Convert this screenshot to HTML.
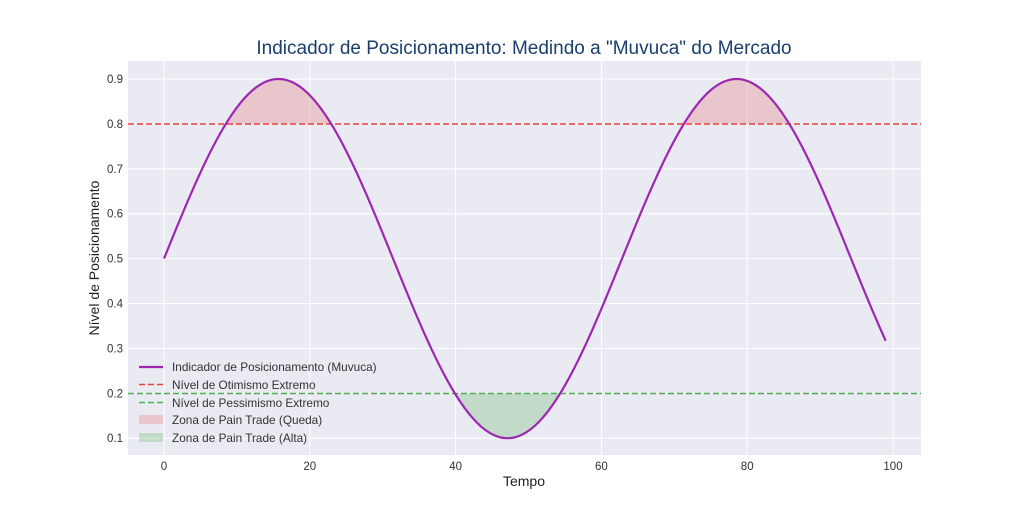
<!DOCTYPE html>
<html><head><meta charset="utf-8"><style>
body{margin:0;background:#fff;}
svg text{font-family:"Liberation Sans",sans-serif;}
</style></head><body>
<svg id="s" width="1024" height="512" xmlns="http://www.w3.org/2000/svg">
<rect x="0" y="0" width="1024" height="512" fill="#fff"/>
<rect x="128" y="61" width="793" height="394" fill="#eaeaf2"/>
<g id="grid" stroke="#fff" stroke-width="1"></g>
<g id="fills"></g>
<line x1="128" x2="921" y1="124" y2="124" stroke="#e8413c" stroke-width="1.5" stroke-dasharray="6,3"/>
<line x1="128" x2="921" y1="393.5" y2="393.5" stroke="#4caf50" stroke-width="1.5" stroke-dasharray="6,3"/>
<path id="curve" fill="none" stroke="#9c27b0" stroke-width="2.2"/>
<g id="labels" font-size="11.5" fill="#333"></g>
<text x="524" y="54" font-size="19" fill="#1a3e6e" text-anchor="middle">Indicador de Posicionamento: Medindo a "Muvuca" do Mercado</text>
<text x="524" y="486" font-size="14" fill="#222" text-anchor="middle">Tempo</text>
<text x="99" y="258" font-size="14" fill="#222" text-anchor="middle" transform="rotate(-90 99 258)">Nível de Posicionamento</text>
<g font-size="11.8" fill="#333">
<line x1="139" x2="163" y1="367" y2="367" stroke="#9c27b0" stroke-width="2.2"/>
<text x="172" y="371">Indicador de Posicionamento (Muvuca)</text>
<line x1="139" x2="163" y1="384.5" y2="384.5" stroke="#e8413c" stroke-width="1.5" stroke-dasharray="6,3"/>
<text x="172" y="389">Nível de Otimismo Extremo</text>
<line x1="139" x2="163" y1="402.5" y2="402.5" stroke="#4caf50" stroke-width="1.5" stroke-dasharray="6,3"/>
<text x="172" y="407">Nível de Pessimismo Extremo</text>
<rect x="139" y="415" width="24" height="9" fill="#e57373" fill-opacity="0.3"/>
<text x="172" y="424">Zona de Pain Trade (Queda)</text>
<rect x="139" y="433" width="24" height="9" fill="#66bb6a" fill-opacity="0.3"/>
<text x="172" y="442">Zona de Pain Trade (Alta)</text>
</g>
</svg>
<script>
var X=function(x){return 164+x*7.29;},Y=function(v){return 79+(0.9-v)*449;};
var g=document.getElementById('grid'),lb=document.getElementById('labels'),ns='http://www.w3.org/2000/svg';
function el(p,t,a,txt){var e=document.createElementNS(ns,t);for(var k in a)e.setAttribute(k,a[k]);if(txt)e.textContent=txt;p.appendChild(e);}
for(var i=0;i<=100;i+=20){el(g,'line',{x1:X(i),x2:X(i),y1:61,y2:455});el(lb,'text',{x:X(i),y:470,'text-anchor':'middle'},''+i);}
for(var j=1;j<=9;j++){var v=j/10;el(g,'line',{x1:128,x2:921,y1:Y(v),y2:Y(v)});el(lb,'text',{x:123,y:Y(v)+4,'text-anchor':'end'},v.toFixed(1));}
var d='',f=function(x){return 0.5+0.4*Math.sin(x/10);};
for(var x=0;x<=99;x+=0.25){d+=(x?'L':'M')+X(x).toFixed(2)+','+Y(f(x)).toFixed(2);}
document.getElementById('curve').setAttribute('d',d);
var fl=document.getElementById('fills');
function zone(a,b,lvl,col){var p='M'+X(a)+','+Y(lvl);for(var x=a;x<=b;x+=0.1)p+='L'+X(x).toFixed(2)+','+Y(f(x)).toFixed(2);p+='L'+X(b)+','+Y(lvl)+'Z';el(fl,'path',{d:p,fill:col,'fill-opacity':0.3});}
var a1=10*Math.asin(0.75);
zone(a1,10*Math.PI-a1,0.8,'#e57373');
zone(20*Math.PI+a1,30*Math.PI-a1,0.8,'#e57373');
zone(10*Math.PI+a1,20*Math.PI-a1,0.2,'#66bb6a');
</script>
</body></html>
